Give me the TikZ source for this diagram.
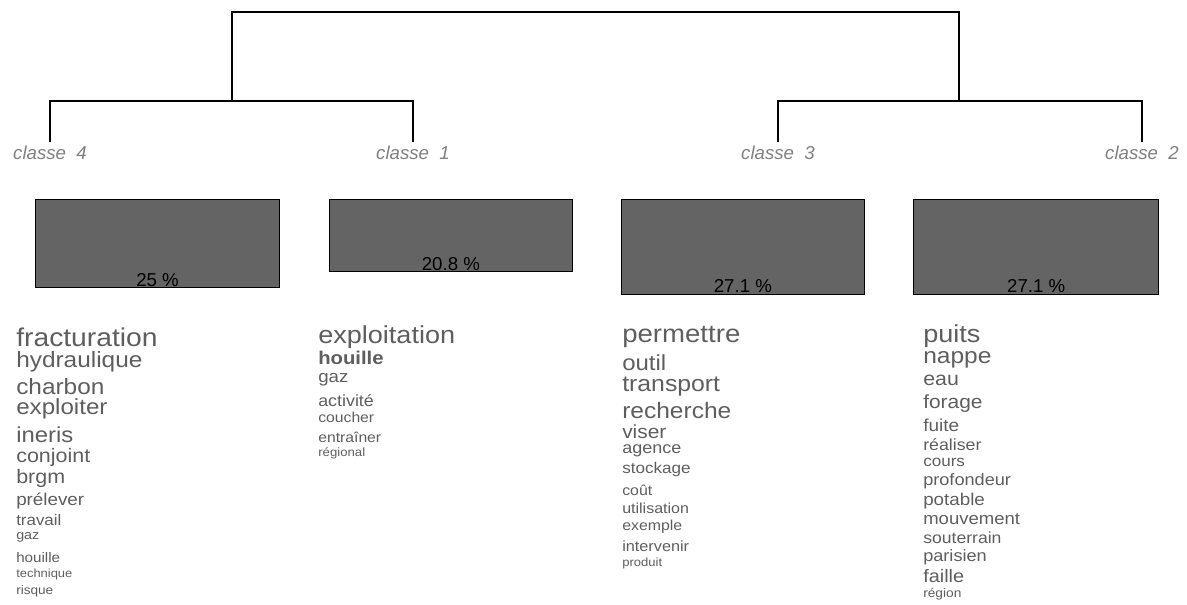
\documentclass[tikz,border=0pt]{standalone}
\usepackage{fontspec}
\setmainfont{Liberation Sans}
\newfontfamily\wordfont[FakeStretch=1.1]{Liberation Sans}
\usetikzlibrary{positioning}
\definecolor{bargray}{HTML}{646464}
\definecolor{wordgray}{HTML}{5E5E5E}
\definecolor{labelgray}{HTML}{808080}
\newcommand\wsz[1]{\fontsize{#1}{#1}\selectfont}
\newcommand\wfs[1]{\wordfont\pgfmathsetmacro\wsize{#1/1.1}\fontsize{\wsize}{\wsize}\selectfont}
\tikzset{
  tree/.style={line width=1.1pt},
  classe/.style={text=labelgray,font=\itshape\wsz{14},inner sep=3pt},
  bar/.style={draw=black,line width=0.8pt,fill=bargray,anchor=north west,inner sep=0pt},
  pct/.style={font=\wsz{14},anchor=base,inner sep=0pt},
  word/.style={text=wordgray,anchor=base west,inner sep=0pt}
}
\begin{document}
\begin{tikzpicture}[x=0.75pt,y=-0.75pt]
\useasboundingbox (0,0) rectangle (1187,604);
% dendrogram
\node[classe] (c4) at (50,153) {classe\ \ 4};
\node[classe] (c1) at (413,153) {classe\ \ 1};
\node[classe] (c3) at (778,153) {classe\ \ 3};
\node[classe] (c2) at (1142,153) {classe\ \ 2};
\coordinate (j41) at (232,101);
\coordinate (j32) at (959,101);
\coordinate (top) at (596,12);
\draw[tree] (c4.north) |- (j41) -| (c1.north);
\draw[tree] (c3.north) |- (j32) -| (c2.north);
\draw[tree] (j41) |- (top) -| (j32);
% bars
\node[bar,minimum width=183pt,minimum height=66pt] (b4) at (35,199) {};
\node[bar,minimum width=182pt,minimum height=54pt] (b1) at (329,199) {};
\node[bar,minimum width=182pt,minimum height=71pt] (b3) at (621,199) {};
\node[bar,minimum width=184pt,minimum height=71pt] (b2) at (913,199) {};
\node[pct] (p4) at ([yshift=1.5pt]b4.south) {25 \%};
\node[pct] (p1) at ([yshift=1.5pt]b1.south) {20.8 \%};
\node[pct] (p3) at ([yshift=1.5pt]b3.south) {27.1 \%};
\node[pct] (p2) at ([yshift=1.5pt]b2.south) {27.1 \%};
% classe 4
\node[word,font=\wfs{21.2}] (w4a) at (16,346) {fracturation};
\node[word,font=\wfs{18.3}] (w4b) at (16,367) {hydraulique};
\node[word,font=\wfs{18.3}] (w4c) at (16,394) {charbon};
\node[word,font=\wfs{18.1}] (w4d) at (16,414) {exploiter};
\node[word,font=\wfs{17.9}] (w4e) at (16,442) {ineris};
\node[word,font=\wfs{16.1}] (w4f) at (16,462) {conjoint};
\node[word,font=\wfs{16.1}] (w4g) at (16,483) {brgm};
\node[word,font=\wfs{14.1}] (w4h) at (16,505) {prélever};
\node[word,font=\wfs{12.7}] (w4i) at (16,525) {travail};
\node[word,font=\wfs{10.7}] (w4j) at (16,539) {gaz};
\node[word,font=\wfs{11.4}] (w4k) at (16,562) {houille};
\node[word,font=\wfs{9.7}] (w4l) at (16,577) {technique};
\node[word,font=\wfs{10.2}] (w4m) at (16,594) {risque};
% classe 1
\node[word,font=\wfs{20.3}] (w1a) at (318,343) {exploitation};
\node[word,font=\bfseries\wfs{15.2}] (w1b) at (318,364) {houille};
\node[word,font=\wfs{14}] (w1c) at (318,382) {gaz};
\node[word,font=\wfs{13.4}] (w1d) at (318,406) {activité};
\node[word,font=\wfs{11.8}] (w1e) at (318,422) {coucher};
\node[word,font=\wfs{11.8}] (w1f) at (318,442) {entraîner};
\node[word,font=\wfs{9.9}] (w1g) at (318,456) {régional};
% classe 3
\node[word,font=\wfs{20.7}] (w3a) at (622,342) {permettre};
\node[word,font=\wfs{18}] (w3b) at (622,370) {outil};
\node[word,font=\wfs{18.6}] (w3c) at (622,391) {transport};
\node[word,font=\wfs{18.4}] (w3d) at (622,418) {recherche};
\node[word,font=\wfs{15.7}] (w3e) at (622,438) {viser};
\node[word,font=\wfs{13.5}] (w3f) at (622,453) {agence};
\node[word,font=\wfs{12.8}] (w3g) at (622,473) {stockage};
\node[word,font=\wfs{11.9}] (w3h) at (622,495) {coût};
\node[word,font=\wfs{12}] (w3i) at (622,513) {utilisation};
\node[word,font=\wfs{11.9}] (w3j) at (622,530) {exemple};
\node[word,font=\wfs{12.2}] (w3k) at (622,551) {intervenir};
\node[word,font=\wfs{9.8}] (w3l) at (622,566) {produit};
% classe 2
\node[word,font=\wfs{20.3}] (w2a) at (923,342) {puits};
\node[word,font=\wfs{18.4}] (w2b) at (923,363) {nappe};
\node[word,font=\wfs{16}] (w2c) at (923,385) {eau};
\node[word,font=\wfs{15.7}] (w2d) at (923,408) {forage};
\node[word,font=\wfs{14.3}] (w2e) at (923,431) {fuite};
\node[word,font=\wfs{13.3}] (w2f) at (923,450) {réaliser};
\node[word,font=\wfs{12.8}] (w2g) at (923,466) {cours};
\node[word,font=\wfs{13.6}] (w2h) at (923,485) {profondeur};
\node[word,font=\wfs{14.1}] (w2i) at (923,505) {potable};
\node[word,font=\wfs{13.9}] (w2j) at (923,524) {mouvement};
\node[word,font=\wfs{13.2}] (w2k) at (923,543) {souterrain};
\node[word,font=\wfs{13.6}] (w2l) at (923,561) {parisien};
\node[word,font=\wfs{14.9}] (w2m) at (923,582) {faille};
\node[word,font=\wfs{10.3}] (w2n) at (923,597) {région};
\end{tikzpicture}
\end{document}
